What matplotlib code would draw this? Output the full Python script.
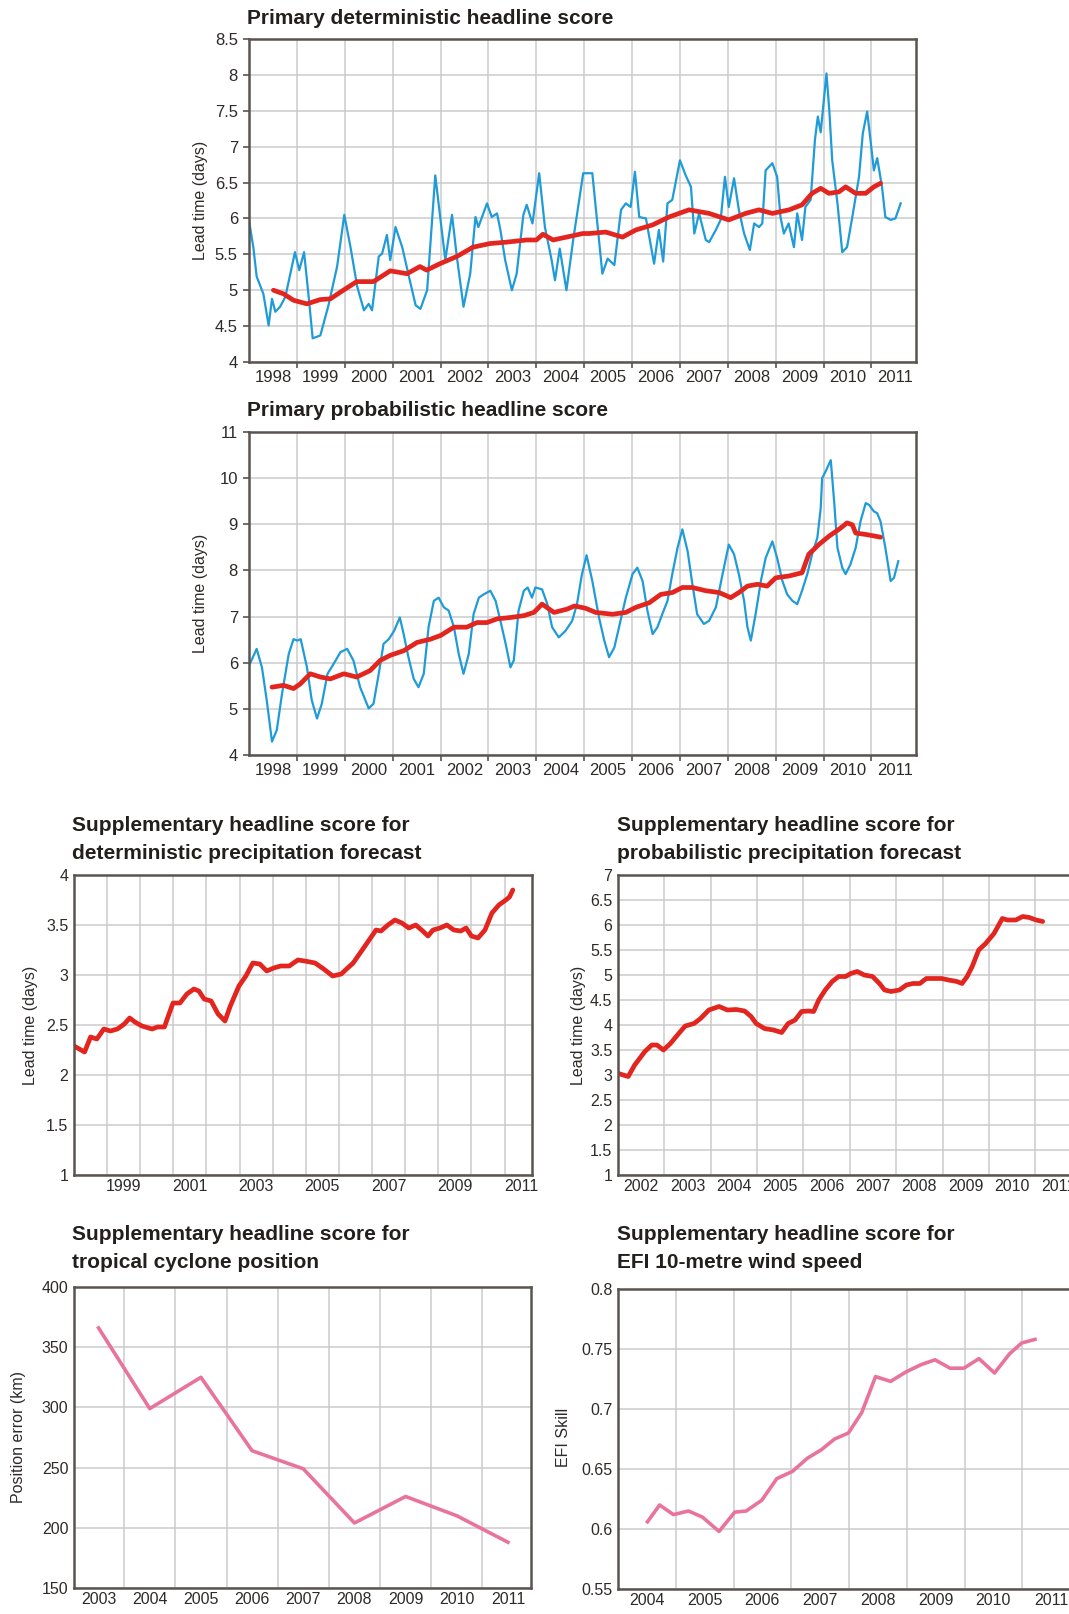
import matplotlib
matplotlib.use("Agg")
import matplotlib.pyplot as plt

W, H = 1069, 1614

# Primary deterministic headline score: monthly score (blue) and 12-month mean (red)
det_t = [1998.00, 1998.09, 1998.16, 1998.30, 1998.41, 1998.48, 1998.55, 1998.65, 1998.76, 1998.96,
         1999.05, 1999.15, 1999.24, 1999.33, 1999.49, 1999.66, 1999.84, 1999.99, 2000.12, 2000.26,
         2000.40, 2000.50, 2000.57, 2000.71, 2000.78, 2000.88, 2000.95, 2001.06, 2001.20, 2001.34,
         2001.48, 2001.58, 2001.72, 2001.89, 2002.00, 2002.10, 2002.24, 2002.34, 2002.48, 2002.62,
         2002.73, 2002.79, 2002.97, 2003.07, 2003.18, 2003.25, 2003.35, 2003.49, 2003.59, 2003.73,
         2003.80, 2003.92, 2004.06, 2004.18, 2004.32, 2004.39, 2004.49, 2004.63, 2004.77, 2004.98,
         2005.17, 2005.38, 2005.49, 2005.63, 2005.77, 2005.87, 2005.97, 2006.06, 2006.15, 2006.29,
         2006.46, 2006.56, 2006.65, 2006.74, 2006.84, 2007.00, 2007.12, 2007.23, 2007.30, 2007.40,
         2007.54, 2007.61, 2007.75, 2007.85, 2007.94, 2008.02, 2008.13, 2008.23, 2008.34, 2008.46,
         2008.55, 2008.65, 2008.72, 2008.79, 2008.93, 2009.03, 2009.10, 2009.17, 2009.27, 2009.38,
         2009.45, 2009.55, 2009.62, 2009.73, 2009.82, 2009.88, 2009.94, 2010.06, 2010.12, 2010.18,
         2010.29, 2010.39, 2010.49, 2010.60, 2010.74, 2010.82, 2010.91, 2010.98, 2011.05, 2011.12,
         2011.22, 2011.29, 2011.40, 2011.50, 2011.61]
det_v = [5.97, 5.60, 5.19, 4.95, 4.51, 4.88, 4.70, 4.77, 4.91, 5.53,
         5.28, 5.53, 4.95, 4.33, 4.37, 4.79, 5.33, 6.05, 5.60, 5.05,
         4.72, 4.81, 4.72, 5.47, 5.51, 5.77, 5.42, 5.88, 5.60, 5.19,
         4.79, 4.74, 5.00, 6.60, 5.98, 5.42, 6.05, 5.47, 4.77, 5.23,
         6.02, 5.88, 6.21, 6.02, 6.07, 5.84, 5.42, 5.00, 5.23, 6.05,
         6.19, 5.93, 6.63, 5.88, 5.42, 5.14, 5.58, 5.00, 5.70, 6.63,
         6.63, 5.23, 5.44, 5.35, 6.12, 6.21, 6.16, 6.65, 6.02, 6.00,
         5.37, 5.84, 5.40, 6.21, 6.26, 6.81, 6.60, 6.44, 5.79, 6.07,
         5.70, 5.67, 5.84, 5.98, 6.58, 6.16, 6.56, 6.12, 5.79, 5.56,
         5.93, 5.88, 5.93, 6.67, 6.77, 6.58, 6.02, 5.79, 5.93, 5.60,
         6.07, 5.70, 6.16, 6.26, 7.10, 7.42, 7.20, 8.02, 7.50, 6.81,
         6.21, 5.53, 5.60, 6.02, 6.58, 7.19, 7.49, 7.09, 6.67, 6.84,
         6.44, 6.02, 5.98, 6.00, 6.21]
det_mean_t = [1998.51, 1998.72, 1998.93, 1999.21, 1999.49, 1999.70, 1999.97, 2000.25, 2000.60, 2000.95,
              2001.30, 2001.57, 2001.71, 2001.99, 2002.34, 2002.68, 2003.03, 2003.38, 2003.80, 2004.00,
              2004.14, 2004.35, 2004.63, 2004.97, 2005.10, 2005.45, 2005.80, 2006.08, 2006.43, 2006.77,
              2007.19, 2007.61, 2008.02, 2008.37, 2008.65, 2008.93, 2009.28, 2009.55, 2009.76, 2009.94,
              2010.11, 2010.32, 2010.46, 2010.67, 2010.88, 2011.05, 2011.19]
det_mean_v = [5.00, 4.95, 4.86, 4.81, 4.87, 4.88, 5.00, 5.12, 5.12, 5.27,
              5.23, 5.33, 5.28, 5.37, 5.47, 5.60, 5.65, 5.67, 5.70, 5.70,
              5.78, 5.70, 5.74, 5.79, 5.79, 5.81, 5.74, 5.84, 5.91, 6.02,
              6.12, 6.07, 5.98, 6.07, 6.12, 6.07, 6.12, 6.19, 6.35, 6.42,
              6.35, 6.37, 6.44, 6.35, 6.35, 6.44, 6.49]

# Primary probabilistic headline score
prob_t = [1998.02, 1998.16, 1998.27, 1998.37, 1998.48, 1998.58, 1998.69, 1998.83, 1998.93, 1999.01,
          1999.08, 1999.21, 1999.31, 1999.42, 1999.52, 1999.64, 1999.77, 1999.91, 2000.05, 2000.18,
          2000.32, 2000.50, 2000.60, 2000.71, 2000.81, 2000.92, 2001.03, 2001.15, 2001.23, 2001.33,
          2001.44, 2001.54, 2001.65, 2001.75, 2001.86, 2001.96, 2002.07, 2002.17, 2002.28, 2002.38,
          2002.48, 2002.59, 2002.69, 2002.80, 2002.90, 2003.04, 2003.15, 2003.25, 2003.36, 2003.46,
          2003.53, 2003.63, 2003.74, 2003.82, 2003.91, 2003.98, 2004.12, 2004.23, 2004.33, 2004.47,
          2004.61, 2004.75, 2004.85, 2004.95, 2005.05, 2005.17, 2005.31, 2005.42, 2005.52, 2005.63,
          2005.76, 2005.87, 2006.01, 2006.11, 2006.22, 2006.32, 2006.43, 2006.53, 2006.63, 2006.74,
          2006.84, 2006.95, 2007.05, 2007.16, 2007.26, 2007.36, 2007.50, 2007.61, 2007.75, 2007.89,
          2008.02, 2008.13, 2008.23, 2008.34, 2008.41, 2008.48, 2008.58, 2008.69, 2008.79, 2008.93,
          2009.03, 2009.14, 2009.24, 2009.35, 2009.45, 2009.55, 2009.66, 2009.76, 2009.87, 2009.94,
          2009.97, 2010.04, 2010.15, 2010.22, 2010.29, 2010.39, 2010.46, 2010.56, 2010.67, 2010.77,
          2010.88, 2010.95, 2011.05, 2011.12, 2011.19, 2011.29, 2011.40, 2011.47, 2011.56]
prob_v = [5.98, 6.30, 5.90, 5.19, 4.29, 4.54, 5.33, 6.19, 6.51, 6.48,
          6.51, 5.90, 5.19, 4.79, 5.11, 5.76, 5.98, 6.23, 6.30, 6.05,
          5.47, 5.01, 5.11, 5.76, 6.41, 6.51, 6.69, 6.98, 6.62, 6.12,
          5.65, 5.47, 5.76, 6.77, 7.34, 7.41, 7.20, 7.13, 6.77, 6.19,
          5.76, 6.19, 7.05, 7.41, 7.48, 7.56, 7.34, 6.91, 6.41, 5.90,
          6.05, 7.13, 7.56, 7.63, 7.41, 7.63, 7.59, 7.27, 6.77, 6.55,
          6.69, 6.91, 7.27, 7.90, 8.33, 7.77, 6.98, 6.48, 6.12, 6.33,
          6.91, 7.41, 7.92, 8.06, 7.77, 7.13, 6.62, 6.77, 7.05, 7.34,
          7.92, 8.49, 8.89, 8.42, 7.70, 7.05, 6.84, 6.91, 7.20, 7.92,
          8.56, 8.35, 7.92, 7.34, 6.77, 6.48, 7.05, 7.77, 8.27, 8.63,
          8.27, 7.77, 7.48, 7.34, 7.27, 7.56, 7.92, 8.35, 8.71, 9.35,
          10.00, 10.14, 10.39, 9.50, 8.49, 8.06, 7.92, 8.13, 8.49, 9.06,
          9.46, 9.42, 9.28, 9.24, 9.06, 8.49, 7.77, 7.84, 8.20]
prob_mean_t = [1998.48, 1998.72, 1998.93, 1999.07, 1999.28, 1999.49, 1999.70, 1999.98, 2000.25, 2000.53,
               2000.74, 2000.95, 2001.23, 2001.51, 2001.79, 2002.00, 2002.28, 2002.55, 2002.76, 2002.97,
               2003.18, 2003.46, 2003.74, 2003.95, 2004.12, 2004.37, 2004.64, 2004.80, 2005.03, 2005.24,
               2005.59, 2005.87, 2006.08, 2006.36, 2006.60, 2006.84, 2007.05, 2007.26, 2007.54, 2007.82,
               2008.06, 2008.23, 2008.41, 2008.62, 2008.82, 2009.00, 2009.28, 2009.55, 2009.69, 2009.90,
               2010.11, 2010.32, 2010.49, 2010.60, 2010.67, 2010.88, 2011.09, 2011.19]
prob_mean_v = [5.47, 5.51, 5.44, 5.54, 5.76, 5.69, 5.65, 5.76, 5.69, 5.83,
               6.05, 6.16, 6.26, 6.44, 6.51, 6.59, 6.77, 6.77, 6.87, 6.87,
               6.95, 6.98, 7.02, 7.09, 7.27, 7.09, 7.16, 7.23, 7.18, 7.09,
               7.05, 7.09, 7.20, 7.30, 7.48, 7.52, 7.63, 7.63, 7.56, 7.52,
               7.41, 7.52, 7.66, 7.70, 7.66, 7.84, 7.88, 7.95, 8.35, 8.56,
               8.74, 8.89, 9.03, 8.99, 8.81, 8.78, 8.74, 8.72]

# Supplementary: deterministic precipitation
dprec_t = [1998.00, 1998.16, 1998.32, 1998.50, 1998.69, 1998.90, 1999.10, 1999.31, 1999.52, 1999.68,
           1999.84, 2000.05, 2000.36, 2000.52, 2000.73, 2000.88, 2000.99, 2001.20, 2001.41, 2001.62,
           2001.77, 2001.93, 2002.14, 2002.35, 2002.56, 2002.72, 2002.98, 2003.19, 2003.40, 2003.61,
           2003.82, 2004.03, 2004.24, 2004.50, 2004.76, 2004.97, 2005.28, 2005.54, 2005.81, 2006.07,
           2006.23, 2006.43, 2006.64, 2006.85, 2007.12, 2007.27, 2007.48, 2007.69, 2007.90, 2008.11,
           2008.32, 2008.53, 2008.69, 2008.84, 2009.05, 2009.26, 2009.47, 2009.68, 2009.84, 2010.00,
           2010.20, 2010.41, 2010.62, 2010.83, 2011.04, 2011.15, 2011.25]
dprec_v = [2.29, 2.26, 2.23, 2.38, 2.36, 2.46, 2.44, 2.46, 2.51, 2.57,
           2.53, 2.49, 2.46, 2.48, 2.48, 2.62, 2.72, 2.72, 2.81, 2.86,
           2.84, 2.76, 2.74, 2.61, 2.54, 2.69, 2.89, 2.99, 3.12, 3.11,
           3.04, 3.07, 3.09, 3.09, 3.15, 3.14, 3.12, 3.06, 2.99, 3.01,
           3.06, 3.12, 3.22, 3.32, 3.45, 3.44, 3.50, 3.55, 3.52, 3.47,
           3.50, 3.44, 3.39, 3.45, 3.47, 3.50, 3.45, 3.44, 3.47, 3.39,
           3.37, 3.45, 3.62, 3.70, 3.75, 3.78, 3.85]

# Supplementary: probabilistic precipitation
pprec_t = [2002.01, 2002.11, 2002.22, 2002.36, 2002.58, 2002.73, 2002.84, 2002.98, 2003.13, 2003.31,
           2003.45, 2003.64, 2003.78, 2003.96, 2004.18, 2004.36, 2004.55, 2004.73, 2004.87, 2004.98,
           2005.16, 2005.35, 2005.53, 2005.67, 2005.82, 2005.96, 2006.11, 2006.22, 2006.33, 2006.47,
           2006.62, 2006.76, 2006.91, 2007.02, 2007.16, 2007.31, 2007.49, 2007.64, 2007.75, 2007.89,
           2008.07, 2008.22, 2008.36, 2008.51, 2008.65, 2008.80, 2008.98, 2009.13, 2009.31, 2009.42,
           2009.53, 2009.64, 2009.78, 2009.93, 2010.11, 2010.29, 2010.40, 2010.58, 2010.73, 2010.87,
           2011.02, 2011.16]
pprec_v = [3.03, 3.00, 2.97, 3.20, 3.47, 3.60, 3.60, 3.50, 3.63, 3.83,
           3.98, 4.03, 4.13, 4.30, 4.37, 4.30, 4.31, 4.28, 4.17, 4.03,
           3.93, 3.90, 3.85, 4.03, 4.10, 4.27, 4.28, 4.27, 4.50, 4.70,
           4.87, 4.97, 4.97, 5.03, 5.07, 5.00, 4.97, 4.83, 4.70, 4.67,
           4.70, 4.80, 4.83, 4.83, 4.93, 4.93, 4.93, 4.90, 4.87, 4.83,
           4.97, 5.17, 5.50, 5.63, 5.83, 6.13, 6.10, 6.10, 6.17, 6.15,
           6.10, 6.07]

# Supplementary: tropical cyclone position error (km)
tc_years = [2003, 2004, 2005, 2006, 2007, 2008, 2009, 2010, 2011]
tc_error = [366, 299, 325, 264, 249, 204, 226, 210, 188]

# Supplementary: EFI 10-metre wind speed skill
efi_t = [2004.51, 2004.72, 2004.96, 2005.22, 2005.46, 2005.75, 2006.02, 2006.22, 2006.49, 2006.75,
         2007.02, 2007.28, 2007.52, 2007.75, 2007.99, 2008.22, 2008.46, 2008.72, 2008.99, 2009.25,
         2009.49, 2009.75, 2009.99, 2010.25, 2010.52, 2010.78, 2010.99, 2011.22]
efi_v = [0.606, 0.620, 0.612, 0.615, 0.610, 0.598, 0.614, 0.615, 0.624, 0.642,
         0.648, 0.659, 0.666, 0.675, 0.680, 0.697, 0.727, 0.723, 0.731, 0.737,
         0.741, 0.734, 0.734, 0.742, 0.730, 0.746, 0.755, 0.758]

BLUE = '#1f9bd7'
RED = '#e3251f'
PINK = '#e8749c'
FRAME = '#5b5350'
GRID = '#cbcbcb'
TEXT = '#2e2a28'

plt.rcParams['font.family'] = ['Liberation Sans', 'DejaVu Sans']

fig = plt.figure(figsize=(W / 100, H / 100), dpi=100)


def place(left, top, right, bottom):
    return fig.add_axes([left / W, 1 - bottom / H, (right - left) / W, (bottom - top) / H])


def frame(ax, tick_len, size, xpad):
    for s in ax.spines.values():
        s.set_color(FRAME)
        s.set_linewidth(1.8)
    ax.grid(True, which='major', color=GRID, lw=1.1)
    ax.set_axisbelow(True)
    ax.tick_params(which='major', direction='out', length=tick_len, width=1.2, color=FRAME,
                   labelsize=size, labelcolor=TEXT, pad=4)
    ax.tick_params(axis='x', which='minor', length=0, labelsize=size, labelcolor=TEXT, pad=xpad)
    ax.yaxis.set_major_formatter(plt.FormatStrFormatter('%g'))


def year_axis(ax, first, last, grid_years, label_years, offset):
    ax.set_xlim(first, last)
    ax.set_xticks(grid_years, labels=[''] * len(grid_years))
    ax.set_xticks([y + offset for y in label_years], labels=[str(y) for y in label_years], minor=True)


def title(x, y, lines):
    for i, line in enumerate(lines):
        fig.text(x / W, 1 - (y + i * 28) / H, line, fontsize=15, fontweight='bold',
                 color='#231f1d', va='center', ha='left')


def ylabel(x, y, text):
    fig.text(x / W, 1 - y / H, text, rotation=90, fontsize=11.5, color=TEXT, va='center', ha='center')


# --- top: deterministic
ax = place(249, 39, 916, 362)
ax.plot(det_t, det_v, color=BLUE, lw=1.6)
ax.plot(det_mean_t, det_mean_v, color=RED, lw=3.4, solid_capstyle='round')
ax.set_ylim(4, 8.5)
ax.set_yticks([4 + 0.5 * i for i in range(10)])
year_axis(ax, 1998, 2011.93, list(range(1999, 2012)), list(range(1998, 2012)), 0.5)
frame(ax, 4, 12, 6)
title(247, 18, ['Primary deterministic headline score'])
ylabel(201, 200, 'Lead time (days)')

# --- second: probabilistic
ax = place(249, 432, 916, 755)
ax.plot(prob_t, prob_v, color=BLUE, lw=1.6)
ax.plot(prob_mean_t, prob_mean_v, color=RED, lw=3.4, solid_capstyle='round')
ax.set_ylim(4, 11)
ax.set_yticks(range(4, 12))
year_axis(ax, 1998, 2011.93, list(range(1999, 2012)), list(range(1998, 2012)), 0.5)
frame(ax, 4, 12, 6)
title(247, 411, ['Primary probabilistic headline score'])
ylabel(201, 593, 'Lead time (days)')

# --- deterministic precipitation
ax = place(74, 875, 532, 1175)
ax.plot(dprec_t, dprec_v, color=RED, lw=3.4, solid_capstyle='round')
ax.set_ylim(1, 4)
ax.set_yticks([1 + 0.5 * i for i in range(7)])
year_axis(ax, 1998, 2011.83, list(range(1999, 2012)), list(range(1999, 2012, 2)), 0.5)
frame(ax, 0, 11.5, 3)
title(72, 826, ['Supplementary headline score for', 'deterministic precipitation forecast'])
ylabel(31, 1025, 'Lead time (days)')

# --- probabilistic precipitation
ax = place(618, 875, 1077, 1175)
ax.plot(pprec_t, pprec_v, color=RED, lw=3.4, solid_capstyle='round')
ax.set_ylim(1, 7)
ax.set_yticks([1 + 0.5 * i for i in range(13)])
year_axis(ax, 2002, 2011.9, list(range(2003, 2012)), list(range(2002, 2012)), 0.5)
frame(ax, 0, 11.5, 3)
title(617, 826, ['Supplementary headline score for', 'probabilistic precipitation forecast'])
ylabel(579, 1025, 'Lead time (days)')

# --- tropical cyclone position
ax = place(74, 1287, 531, 1588)
ax.plot(tc_years, tc_error, color=PINK, lw=2.6)
ax.set_ylim(150, 400)
ax.set_yticks(range(150, 401, 50))
ax.set_xlim(2002.52, 2011.45)
ax.set_xticks([y + 0.5 for y in tc_years[:-1]], labels=[''] * (len(tc_years) - 1))
ax.set_xticks(tc_years, labels=[str(y) for y in tc_years], minor=True)
frame(ax, 0, 11.5, 3)
title(72, 1235, ['Supplementary headline score for', 'tropical cyclone position'])
ylabel(19, 1437, 'Position error (km)')

# --- EFI 10-metre wind speed
ax = place(618, 1289, 1080, 1589)
ax.plot(efi_t, efi_v, color=PINK, lw=2.6)
ax.set_ylim(0.55, 0.8)
ax.set_yticks([0.55, 0.6, 0.65, 0.7, 0.75, 0.8])
year_axis(ax, 2004, 2012, list(range(2005, 2012)), list(range(2004, 2012)), 0.5)
frame(ax, 0, 11.5, 3)
title(617, 1235, ['Supplementary headline score for', 'EFI 10-metre wind speed'])
ylabel(564, 1437, 'EFI Skill')

fig.savefig('out.png', dpi=100)
